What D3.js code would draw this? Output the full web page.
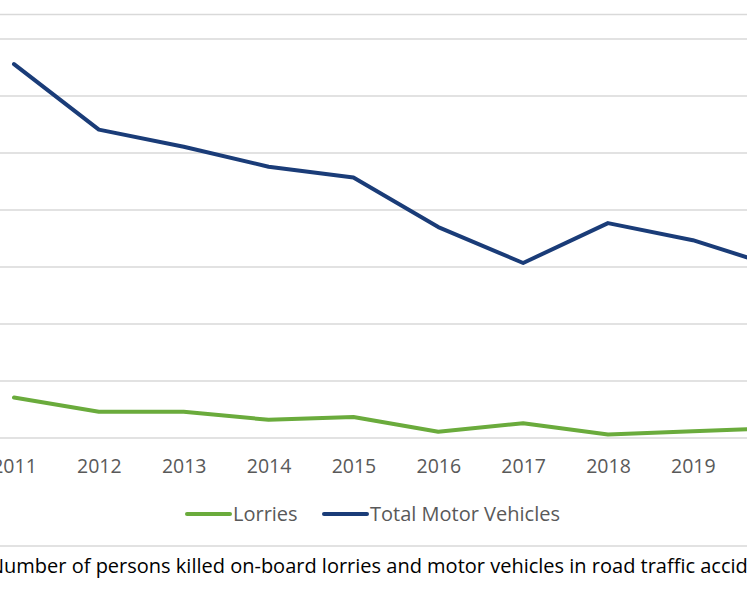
<!DOCTYPE html>
<html>
<head>
<meta charset="utf-8">
<script src="https://cdn.jsdelivr.net/npm/d3@7"></script>
<style>
    body { margin: 0; background: #fff; }
    svg { display: block; font-family: "Open Sans", Lato, sans-serif; }
</style>
</head>
<body>
<div id="chart"></div>
<script>

// categories and series
let years = [2011, 2012, 2013, 2014, 2015, 2016, 2017, 2018, 2019, 2020];
let lorries = [71, 46, 46, 32, 37, 11, 26, 6, 12, 17];
let totalMotor = [656, 541, 511, 476, 457, 370, 307, 377, 347, 300];
let yTicks = [0, 100, 200, 300, 400, 500, 600, 700];

let caption = "Number of persons killed on-board lorries and motor vehicles in road traffic accidents";

let width = 747, height = 598;

let svg = d3.select("#chart").append("svg")
    .attr("width", width)
    .attr("height", height);

let colors = {"Lorries": "#6aab3c", "Total Motor Vehicles": "#1a3c78"};

// x: the plot is cropped, first category sits at the left edge
let x = d3.scalePoint()
    .domain(years)
    .range([14, 777.7]);

let y = d3.scaleLinear()
    .domain([0, 700])
    .range([438, 39]);

// chart frame (top and bottom edges visible)
svg.append("line")
    .attr("x1", 0).attr("x2", width)
    .attr("y1", 14.5).attr("y2", 14.5)
    .style("stroke", "#d9d9d9").style("stroke-width", 1.3);
svg.append("line")
    .attr("x1", 0).attr("x2", width)
    .attr("y1", 546).attr("y2", 546)
    .style("stroke", "#d9d9d9").style("stroke-width", 1.3);

// gridlines
svg.append("g")
    .selectAll("line")
    .data(yTicks)
    .enter().append("line")
    .attr("x1", 0).attr("x2", width)
    .attr("y1", d => y(d)).attr("y2", d => y(d))
    .style("stroke", "#d9d9d9")
    .style("stroke-width", 1.3);

// x axis labels
let xAxis = d3.axisBottom(x).tickSize(0).tickPadding(0);
let gx = svg.append("g")
    .attr("transform", `translate(0, ${y(0)})`)
    .call(xAxis);
gx.select(".domain").remove();
gx.selectAll("text")
    .attr("dy", null)
    .attr("y", 35)
    .style("font-family", "'Open Sans', sans-serif")
    .style("font-size", "19.5px")
    .style("fill", "#595959");

// lines
let line = d3.line()
    .x((d, i) => x(years[i]))
    .y(d => y(d));

let series = [
    {name: "Lorries", values: lorries},
    {name: "Total Motor Vehicles", values: totalMotor}
];

svg.selectAll(".series")
    .data(series)
    .enter().append("path")
    .attr("class", "series")
    .attr("d", d => line(d.values))
    .style("fill", "none")
    .style("stroke", d => colors[d.name])
    .style("stroke-width", 4)
    .style("stroke-linejoin", "round")
    .style("stroke-linecap", "round");

// legend
let legend = svg.append("g").attr("class", "legend");
let legendX = [187, 324];
series.forEach((s, i) => {
    let g = legend.append("g").attr("transform", `translate(${legendX[i]}, 514)`);
    g.append("line")
        .attr("x1", 0).attr("x2", 43)
        .style("stroke", colors[s.name])
        .style("stroke-width", 4)
        .style("stroke-linecap", "round");
    g.append("text")
        .attr("x", 46)
        .attr("y", 7)
        .text(s.name)
        .style("font-size", "20px")
        .style("fill", "#595959");
});

// caption below the chart
svg.append("text")
    .attr("x", -11)
    .attr("y", 573)
    .text(caption)
    .style("font-size", "20px")
    .style("fill", "#000");

</script>
</body>
</html>
